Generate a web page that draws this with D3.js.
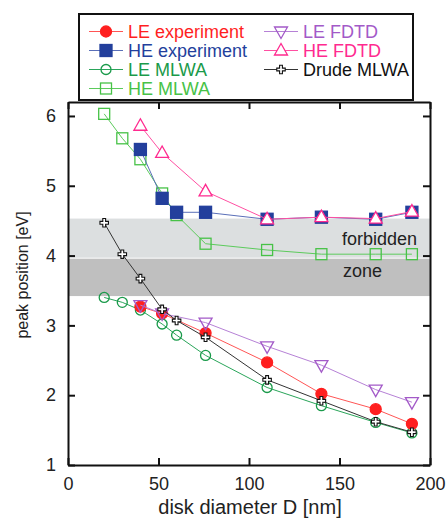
<!DOCTYPE html>
<html>
<head>
<meta charset="utf-8">
<script src="https://cdn.jsdelivr.net/npm/d3@7"></script>
<style>
  body { margin: 0; background: #fff; }
  text { font-family: "Liberation Sans", Arial, sans-serif; }
</style>
</head>
<body>
<div id="chart"></div>
<script>
// disk diameters (nm)
const diameters = [20, 30, 40, 52, 60, 76, 110, 140, 170, 190];

// peak positions (eV), null = no point
const leExperiment = [null, null, 3.27, 3.17, null, 2.89, 2.47, 2.02, 1.80, 1.59];
const heExperiment = [null, null, 5.52, 4.82, 4.62, 4.62, 4.52, 4.55, 4.52, 4.62];
const leMlwa = [3.40, 3.33, 3.22, 3.02, 2.86, 2.57, 2.11, 1.85, 1.61, 1.46];
const heMlwa = [6.03, 5.68, 5.38, 4.89, 4.58, 4.17, 4.08, 4.02, 4.02, 4.02];
const leFdtd = [null, null, 3.29, 3.17, null, 3.04, 2.70, 2.43, 2.08, 1.90];
const heFdtd = [null, null, 5.86, 5.47, null, 4.92, 4.52, 4.55, 4.53, 4.63];
const drudeMlwa = [4.47, 4.02, 3.67, 3.23, 3.07, 2.83, 2.22, 1.92, 1.62, 1.47];

// forbidden zone bands (eV)
const bandLight = [3.97, 4.53];
const bandDark = [3.42, 3.97];

const xTicks = [0, 50, 100, 150, 200];
const yTicks = [1, 2, 3, 4, 5, 6];

const width = 447, height = 521;
const svg = d3.select("#chart").append("svg")
    .attr("width", width)
    .attr("height", height);

const x = d3.scaleLinear().domain([0, 200]).range([68, 430]);
const y = d3.scaleLinear().domain([1, 6.2]).range([465, 102]);

// 灰色带
svg.append("rect")
    .attr("x", x(0)).attr("width", x(200) - x(0))
    .attr("y", y(bandLight[1])).attr("height", y(bandLight[0]) - y(bandLight[1]))
    .attr("fill", "#dcdfe0");
svg.append("rect")
    .attr("x", x(0)).attr("width", x(200) - x(0))
    .attr("y", y(bandDark[1]) + 1).attr("height", y(bandDark[0]) - y(bandDark[1]) - 1)
    .attr("fill", "#bfbfbf");

svg.append("text").attr("x", 342).attr("y", 245)
    .style("font-size", "18px").attr("fill", "#222").text("forbidden");
svg.append("text").attr("x", 343).attr("y", 277)
    .style("font-size", "18px").attr("fill", "#222").text("zone");

// 系列
const series = [
    { name: "LE experiment", vals: leExperiment, color: "#ff1f1f", line: "#ff5555", shape: "circle", fill: true },
    { name: "HE experiment", vals: heExperiment, color: "#233f9c", line: "#5a6fb8", shape: "square", fill: true },
    { name: "LE MLWA", vals: leMlwa, color: "#1a9a4a", line: "#2aa55a", shape: "circle", fill: false },
    { name: "HE MLWA", vals: heMlwa, color: "#47c247", line: "#5ccb5c", shape: "square", fill: false },
    { name: "LE FDTD", vals: leFdtd, color: "#a35ac8", line: "#b681d6", shape: "down", fill: false },
    { name: "HE FDTD", vals: heFdtd, color: "#ff2a8f", line: "#ff4fa2", shape: "up", fill: false, white: true },
    { name: "Drude MLWA", vals: drudeMlwa, color: "#111", line: "#333", shape: "cross", fill: false, white: true }
];

function marker(g, s, cx, cy) {
    const fill = s.fill ? s.color : (s.white ? "#fff" : "none");
    if (s.shape === "circle") {
        g.append("circle").attr("cx", cx).attr("cy", cy).attr("r", s.fill ? 5.5 : 5)
            .attr("fill", fill).attr("stroke", s.color).attr("stroke-width", 1.3);
    } else if (s.shape === "square") {
        const h = s.fill ? 6 : 5.5;
        g.append("rect").attr("x", cx - h).attr("y", cy - h).attr("width", 2 * h).attr("height", 2 * h)
            .attr("fill", fill).attr("stroke", s.color).attr("stroke-width", 1.3);
    } else if (s.shape === "up" || s.shape === "down") {
        const k = s.shape === "up" ? 1 : -1;
        const pts = [[cx, cy - 7 * k], [cx - 6.5, cy + 4.5 * k], [cx + 6.5, cy + 4.5 * k]];
        g.append("path").attr("d", "M" + pts.join("L") + "Z")
            .attr("fill", fill).attr("stroke", s.color).attr("stroke-width", 1.3);
    } else {
        g.append("path").attr("d", d3.symbol(d3.symbolCross, 40)())
            .attr("transform", `translate(${cx},${cy})`)
            .attr("fill", "#fff").attr("stroke", s.color).attr("stroke-width", 1.1);
    }
}

const lineGen = d3.line()
    .defined(d => d.v !== null)
    .x(d => x(d.d))
    .y(d => y(d.v));

const order = [3, 1, 5, 2, 0, 4, 6];
order.forEach(i => {
    const s = series[i];
    const pts = diameters.map((d, j) => ({ d: d, v: s.vals[j] })).filter(p => p.v !== null);
    const g = svg.append("g");
    g.append("path").datum(pts)
        .attr("fill", "none").attr("stroke", s.line).attr("stroke-width", 1)
        .attr("d", lineGen);
    pts.forEach(p => marker(g, s, x(p.d), y(p.v)));
});

// 坐标轴
const axisG = svg.append("g");
axisG.append("g").attr("transform", `translate(0,${y(1)})`)
    .call(d3.axisBottom(x).tickValues(xTicks).tickSizeInner(-7).tickSizeOuter(0).tickPadding(12).tickFormat(d3.format("d")));
axisG.append("g").attr("transform", `translate(0,${y(6.2)})`)
    .call(d3.axisTop(x).tickValues(xTicks).tickSizeInner(-7).tickSizeOuter(0).tickFormat(""));
axisG.append("g").attr("transform", `translate(${x(0)},0)`)
    .call(d3.axisLeft(y).tickValues(yTicks).tickSizeInner(-7).tickSizeOuter(0).tickPadding(12).tickFormat(d3.format("d")));
axisG.append("g").attr("transform", `translate(${x(200)},0)`)
    .call(d3.axisRight(y).tickValues(yTicks).tickSizeInner(-7).tickSizeOuter(0).tickFormat(""));
axisG.selectAll(".domain").attr("stroke", "#111").attr("stroke-width", 2);
axisG.selectAll(".tick line").attr("stroke", "#111").attr("stroke-width", 2);
axisG.selectAll(".tick text").style("font-size", "18px").attr("fill", "#222")
    .style("font-family", "'Liberation Sans', Arial, sans-serif");

svg.append("text").attr("x", 250).attr("y", 514).attr("text-anchor", "middle")
    .style("font-size", "20px").attr("fill", "#222").text("disk diameter D [nm]");
svg.append("text").attr("transform", "translate(28,275) rotate(-90)").attr("text-anchor", "middle")
    .style("font-size", "16px").attr("fill", "#222").text("peak position [eV]");

// 图例
const legend = svg.append("g");
legend.append("rect").attr("x", 79).attr("y", 14).attr("width", 334).attr("height", 86)
    .attr("fill", "#fff").attr("stroke", "#111").attr("stroke-width", 2);
const legendPos = [
    [0, 0], [0, 1], [0, 2], [0, 3], [1, 0], [1, 1], [1, 2]
];
series.forEach((s, i) => {
    const col = legendPos[i][0], row = legendPos[i][1];
    const lx = col === 0 ? 89 : 264;
    const ly = 31.5 + row * 19;
    const g = legend.append("g");
    g.append("line").attr("x1", lx).attr("x2", lx + 34).attr("y1", ly).attr("y2", ly)
        .attr("stroke", s.line).attr("stroke-width", 1.2);
    marker(g, s, lx + 17, ly);
    g.append("text").attr("x", lx + 39).attr("y", ly + 6.5)
        .style("font-size", "18px").attr("fill", s.color).text(s.name);
});
</script>
</body>
</html>
